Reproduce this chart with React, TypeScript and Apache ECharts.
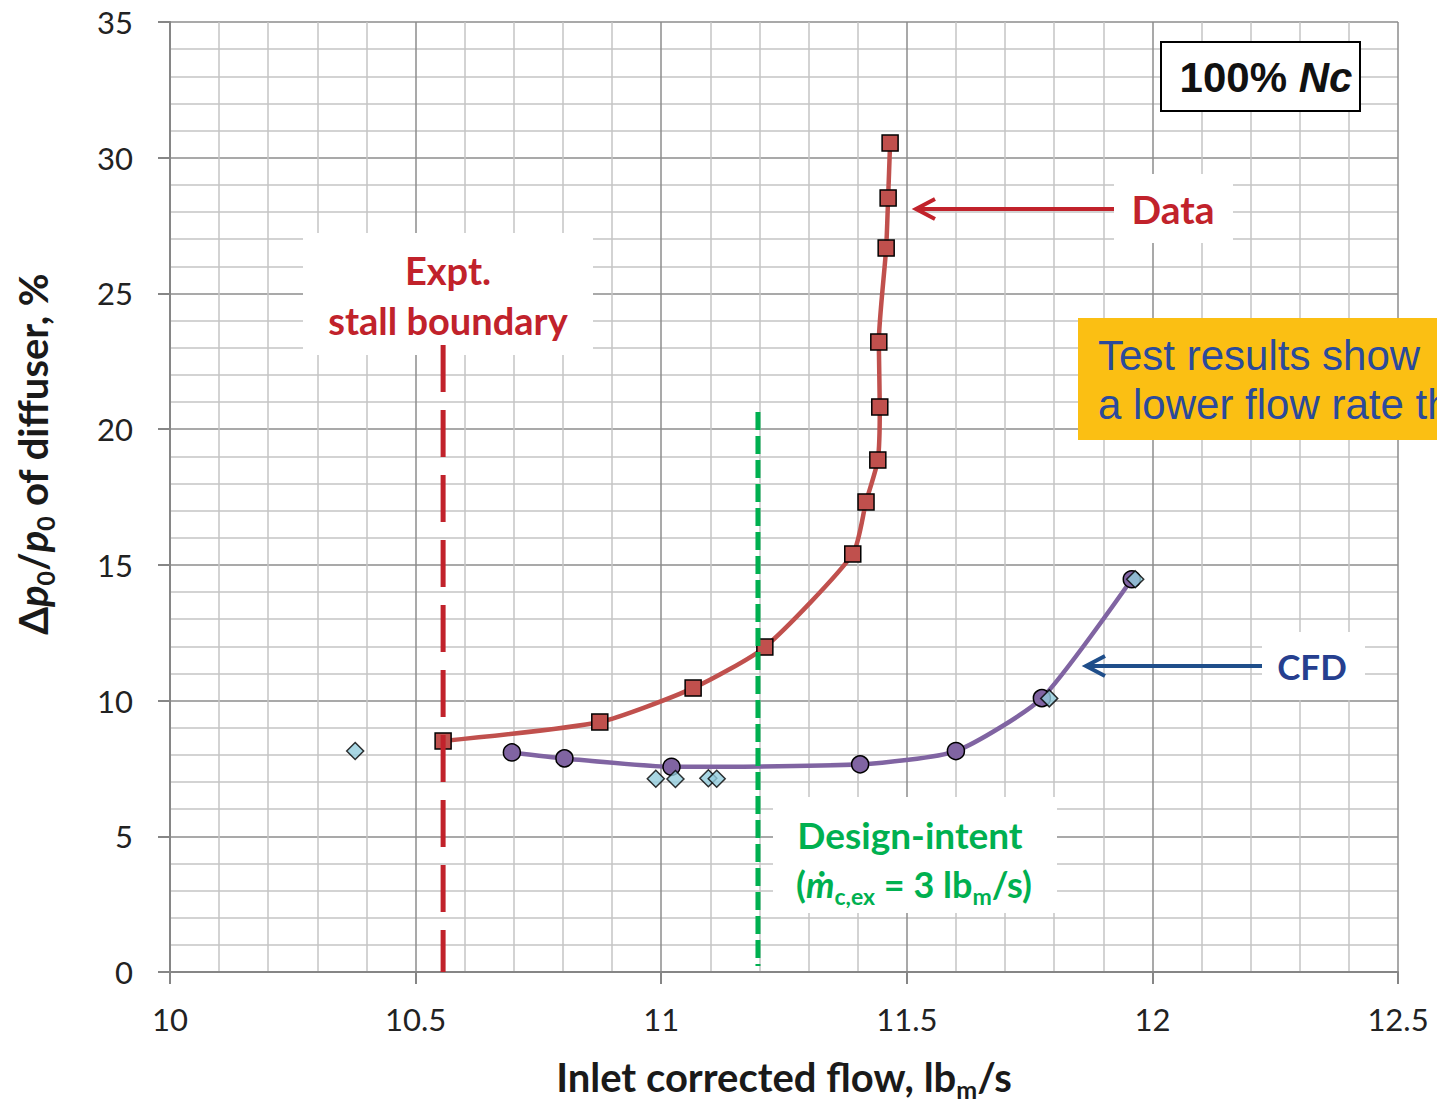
import React, { useEffect, useRef } from "react";
import * as echarts from "echarts";

// Experimental data (red squares)
const dataFlow = [10.556, 10.875, 11.065, 11.211, 11.39, 11.417, 11.441, 11.445, 11.443, 11.458, 11.462, 11.466];
const dataDp = [8.51, 9.21, 10.46, 11.97, 15.4, 17.32, 18.86, 20.82, 23.21, 26.67, 28.52, 30.54];
// CFD curve (purple circles)
const cfdFlow = [10.696, 10.803, 11.021, 11.405, 11.6, 11.775, 11.958];
const cfdDp = [8.09, 7.87, 7.56, 7.65, 8.14, 10.09, 14.47];
// CFD single points (light-blue diamonds)
const ptFlow = [10.377, 10.989, 11.029, 11.096, 11.113, 11.79, 11.965];
const ptDp = [8.14, 7.12, 7.11, 7.14, 7.12, 10.08, 14.47];
// Vertical reference lines
const stallFlow = 10.556;
const stallRange = [23.1, 0];
const designFlow = 11.197;
const designRange = [20.63, 0.22];
// Tick labels
const xTickLabels = ["10", "10.5", "11", "11.5", "12", "12.5"];
const yTickLabels = ["0", "5", "10", "15", "20", "25", "30", "35"];

const RED_TXT = "#c1222b";
const GREEN = "#00b050";
const BLUE_TXT = "#263f8f";
const LATO = "Lato, 'Open Sans', sans-serif";
const ARIAL = "'Liberation Sans', Arial, sans-serif";

function txt(x: number, y: number, text: string, fontSize: number, fill: string, extra: any = {}) {
  return {
    type: "text",
    x,
    y,
    z: 3,
    style: {
      text,
      fontSize,
      fontWeight: "bold",
      fontFamily: LATO,
      fill,
      align: "center",
      verticalAlign: "middle",
      textAlign: "center",
      textVerticalAlign: "middle",
      ...extra,
    },
  };
}

function whiteBox(x: number, y: number, w: number, h: number) {
  return { type: "rect", z: 1, shape: { x, y, width: w, height: h }, style: { fill: "#ffffff" } };
}

function arrow(x1: number, x2: number, y: number, color: string) {
  return [
    { type: "polyline", z: 3, shape: { points: [[x1, y], [x2 + 2, y]] }, style: { stroke: color, lineWidth: 4, fill: "none" } },
    {
      type: "polyline",
      z: 3,
      shape: { points: [[x2 + 19, y - 10], [x2, y], [x2 + 19, y + 10]] },
      style: { stroke: color, lineWidth: 4, fill: "none", lineJoin: "miter" },
    },
  ];
}

export default function App() {
  const ref = useRef<HTMLDivElement>(null);
  useEffect(() => {
    if (!ref.current) return;
    const chart = echarts.init(ref.current, null, { renderer: "svg" });
    const subRich = {
      b: { fontSize: 40, fontWeight: "bold", fontFamily: LATO, fill: "#1a1a1a", color: "#1a1a1a", lineHeight: 48, verticalAlign: "middle" },
      bi: { fontSize: 40, fontWeight: "bold", fontStyle: "italic", fontFamily: LATO, fill: "#1a1a1a", color: "#1a1a1a", lineHeight: 48, verticalAlign: "middle" },
      s: { fontSize: 25, fontWeight: "bold", fontFamily: LATO, fill: "#1a1a1a", color: "#1a1a1a", lineHeight: 22, verticalAlign: "bottom" },
    };
    const greenRich = {
      b: { fontSize: 36, fontWeight: "bold", fontFamily: LATO, fill: GREEN, color: GREEN, lineHeight: 46, verticalAlign: "middle" },
      bi: { fontSize: 36, fontWeight: "bold", fontStyle: "italic", fontFamily: LATO + ", 'DejaVu Sans'", fill: GREEN, color: GREEN, lineHeight: 46, verticalAlign: "middle" },
      s: { fontSize: 23, fontWeight: "bold", fontFamily: LATO, fill: GREEN, color: GREEN, lineHeight: 21, verticalAlign: "bottom" },
    };
    const graphics: any[] = [
      // Expt. stall boundary
      whiteBox(303, 233, 290, 122),
      txt(448, 270, "Expt.", 38, RED_TXT),
      txt(448, 320, "stall boundary", 38, RED_TXT),
      // Data
      whiteBox(1114, 174, 119, 69),
      txt(1173, 209, "Data", 39, RED_TXT),
      ...arrow(1114, 916, 209, "#c1222b"),
      // CFD
      whiteBox(1262, 632, 103, 68),
      txt(1312, 666, "CFD", 35, BLUE_TXT),
      ...arrow(1262, 1086, 666, "#1f4e8a"),
      // Design intent
      whiteBox(773, 797, 284, 116),
      txt(910, 834, "Design-intent", 37, GREEN),
      {
        type: "text",
        x: 914,
        y: 884,
        z: 3,
        style: {
          text: "{b|(}{bi|ṁ}{s|c,ex}{b| = 3 lb}{s|m}{b|/s)}",
          rich: greenRich,
          align: "center",
          verticalAlign: "middle",
          textAlign: "center",
          textVerticalAlign: "middle",
        },
      },
      // 100% Nc box
      {
        type: "rect",
        z: 1,
        shape: { x: 1161, y: 42, width: 199, height: 69 },
        style: { fill: "#ffffff", stroke: "#000000", lineWidth: 2 },
      },
      {
        type: "text",
        x: 1266,
        y: 77,
        z: 3,
        style: {
          text: "{n|100% }{i|Nc}",
          rich: {
            n: { fontSize: 42, fontWeight: "bold", fontFamily: ARIAL, fill: "#111", color: "#111" },
            i: { fontSize: 42, fontWeight: "bold", fontStyle: "italic", fontFamily: ARIAL, fill: "#111", color: "#111" },
          },
          align: "center",
          verticalAlign: "middle",
          textAlign: "center",
          textVerticalAlign: "middle",
        },
      },
      // Orange callout (clipped by the right edge, as in the reference)
      {
        type: "rect",
        z: 10,
        shape: { x: 1078, y: 318, width: 400, height: 122 },
        style: { fill: "#fbbf13" },
      },
      {
        type: "text",
        x: 1098,
        y: 355,
        z: 11,
        style: {
          text: "Test results show",
          fontSize: 42,
          fontFamily: ARIAL,
          fill: "#2b4a9b",
          align: "left",
          verticalAlign: "middle",
          textAlign: "left",
          textVerticalAlign: "middle",
        },
      },
      {
        type: "text",
        x: 1098,
        y: 404,
        z: 11,
        style: {
          text: "a lower flow rate th",
          fontSize: 42,
          fontFamily: ARIAL,
          fill: "#2b4a9b",
          align: "left",
          verticalAlign: "middle",
          textAlign: "left",
          textVerticalAlign: "middle",
        },
      },
      // X axis title
      {
        type: "text",
        x: 784,
        y: 1077,
        z: 3,
        style: {
          text: "{b|Inlet corrected flow, lb}{s|m}{b|/s}",
          rich: subRich,
          align: "center",
          verticalAlign: "middle",
          textAlign: "center",
          textVerticalAlign: "middle",
        },
      },
      // Y axis title
      {
        type: "text",
        x: 33,
        y: 454,
        z: 3,
        rotation: Math.PI / 2,
        style: {
          text: "{b|Δ}{bi|p}{s|0}{b|/}{bi|p}{s|0}{b| of diffuser, %}",
          rich: subRich,
          align: "center",
          verticalAlign: "middle",
          textAlign: "center",
          textVerticalAlign: "middle",
        },
      },
    ];

    const option: any = {
      animation: false,
      backgroundColor: "#ffffff",
      grid: { left: 170, right: 39, top: 22, bottom: 131, containLabel: false },
      xAxis: {
        type: "value",
        min: 10,
        max: 12.5,
        interval: 0.5,
        axisLine: { show: true, onZero: false, lineStyle: { color: "#868686", width: 2 } },
        axisTick: { show: true, length: 12, lineStyle: { color: "#868686", width: 2 } },
        axisLabel: {
          fontFamily: LATO,
          fontSize: 31,
          color: "#222",
          margin: 47,
          verticalAlign: "middle",
          formatter: (v: number) => xTickLabels[Math.round((v - 10) / 0.5)] ?? "",
        },
        splitLine: { show: true, lineStyle: { color: "#8c8c8c", width: 1.5 } },
        minorTick: { show: false, splitNumber: 5 },
        minorSplitLine: { show: true, lineStyle: { color: "#c4c4c4", width: 1.5 } },
      },
      yAxis: {
        type: "value",
        min: 0,
        max: 35,
        interval: 5,
        axisLine: { show: true, onZero: false, lineStyle: { color: "#868686", width: 2 } },
        axisTick: { show: true, length: 12, lineStyle: { color: "#868686", width: 2 } },
        axisLabel: {
          fontFamily: LATO,
          fontSize: 31,
          color: "#222",
          margin: 37,
          formatter: (v: number) => yTickLabels[Math.round(v / 5)] ?? "",
        },
        splitLine: { show: true, lineStyle: { color: "#8c8c8c", width: 1.5 } },
        minorTick: { show: false, splitNumber: 5 },
        minorSplitLine: { show: true, lineStyle: { color: "#c4c4c4", width: 1.5 } },
      },
      series: [
        {
          name: "CFD",
          type: "line",
          z: 2,
          data: cfdFlow.map((x, i) => [x, cfdDp[i]]),
          smooth: 0.2,
          symbol: "circle",
          symbolSize: 17,
          lineStyle: { color: "#8064a2", width: 4.5 },
          itemStyle: { color: "#8064a2", borderColor: "#000", borderWidth: 1.5 },
        },
        {
          name: "Data",
          type: "line",
          z: 3,
          data: dataFlow.map((x, i) => [x, dataDp[i]]),
          smooth: 0.2,
          symbol: "rect",
          symbolSize: 16,
          lineStyle: { color: "#c0504d", width: 4.5 },
          itemStyle: { color: "#c0504d", borderColor: "#000", borderWidth: 1.5 },
        },
        {
          name: "CFD points",
          type: "scatter",
          z: 4,
          data: ptFlow.map((x, i) => [x, ptDp[i]]),
          symbol: "diamond",
          symbolSize: 17,
          itemStyle: { color: "#93cddd", borderColor: "#000", borderWidth: 1.5 },
        },
        {
          name: "Stall boundary",
          type: "line",
          z: 5,
          data: stallRange.map((y) => [stallFlow, y]),
          symbol: "none",
          lineStyle: { color: "#c1222b", width: 5, type: [47, 18] },
        },
        {
          name: "Design intent",
          type: "line",
          z: 5,
          data: designRange.map((y) => [designFlow, y]),
          symbol: "none",
          lineStyle: { color: GREEN, width: 5, type: [18, 6] },
        },
      ],
      graphic: { elements: graphics },
    };
    chart.setOption(option);
    return () => chart.dispose();
  }, []);
  return (
    <div
      ref={ref}
      style={{ position: "absolute", left: 0, top: 0, width: 1437, height: 1103, background: "#fff" }}
    />
  );
}
